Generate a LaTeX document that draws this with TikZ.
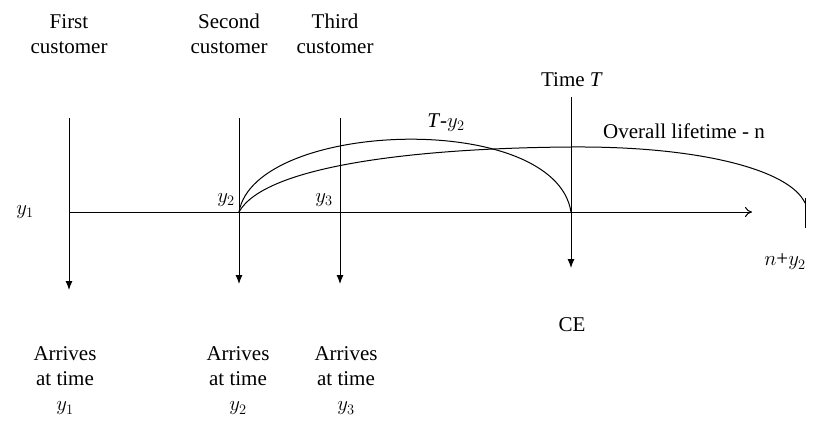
\documentclass[tikz,border=0pt]{standalone}
\usepackage{fontspec}
\setmainfont{Liberation Serif}
\usetikzlibrary{arrows.meta}
\begin{document}
\begin{tikzpicture}[x=1pt,y=-1pt,
  lbl/.style={font=\fontsize{21}{25}\selectfont, align=center, inner sep=0pt},
  vline/.style={line width=1pt, -{Latex[length=9pt,width=7pt]}},
  curve/.style={line width=1pt}]
\useasboundingbox (0,0) rectangle (835,437);
% axis
\coordinate (a0) at (70,212);
\coordinate (a1) at (752,212);
\draw[line width=1pt, -{To[length=7pt,width=10pt]}] (a0) -- (a1);
% vertical arrows
\coordinate (t1) at (69,118);  \coordinate (b1) at (69,290);
\coordinate (t2) at (239,118); \coordinate (b2) at (239,284);
\coordinate (t3) at (340,118); \coordinate (b3) at (340,284);
\coordinate (t4) at (571,97);  \coordinate (b4) at (571,268);
\draw[vline] (t1) -- (b1);
\draw[vline] (t2) -- (b2);
\draw[vline] (t3) -- (b3);
\draw[vline] (t4) -- (b4);
% end tick
\coordinate (e1) at (805,198); \coordinate (e2) at (805,228);
\draw[line width=1pt] (e1) -- (e2);
% curves
\coordinate (s) at (239,212);
\coordinate (ce) at (571,212);
\coordinate (pk) at (571,147);
\coordinate (ee) at (805,203);
\draw[curve] (s) .. controls (255,120) and (555,110) .. (ce);
\draw[curve] (s) .. controls (265,165) and (420,148) .. (pk) .. controls (700,146) and (790,170) .. (ee);
% labels
\node[lbl] (c1) at (69,34) {First\\customer};
\node[lbl] (c2) at (229,34) {Second\\customer};
\node[lbl] (c3) at (335,34) {Third\\customer};
\node[lbl] (tt) at (572,80) {Time \textit{T}};
\node[lbl] (ty) at (446,123) {\textit{T}-$y_2$};
\node[lbl] (ol) at (684,131) {Overall lifetime - n};
\node[lbl] (ly1) at (25,212) {$y_1$};
\node[lbl] (ly2) at (226,200) {$y_2$};
\node[lbl] (ly3) at (324,200) {$y_3$};
\node[lbl] (ny) at (785,262) {$n$+$y_2$};
\node[lbl] (ce2) at (572,325) {CE};
\node[lbl] (r1) at (65,381) {Arrives\\at time\\$y_1$};
\node[lbl] (r2) at (238,381) {Arrives\\at time\\$y_2$};
\node[lbl] (r3) at (346,381) {Arrives\\at time\\$y_3$};
\end{tikzpicture}
\end{document}
